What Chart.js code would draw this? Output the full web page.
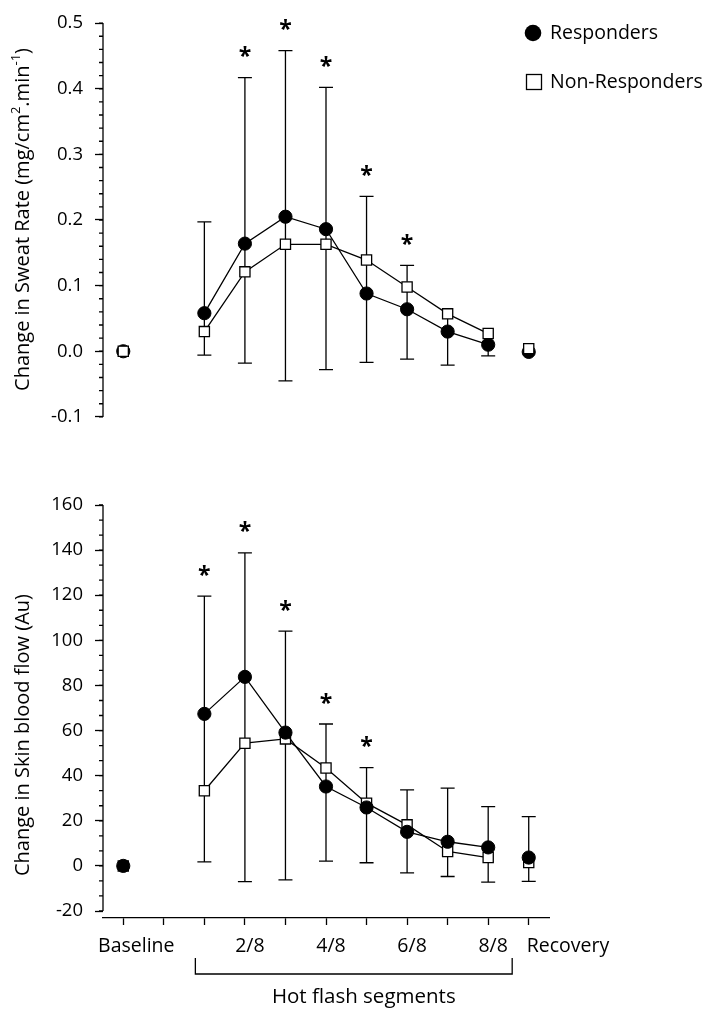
<!DOCTYPE html>
<html>
<head>
<meta charset="utf-8">
<script src="https://cdn.jsdelivr.net/npm/chart.js@4.4.1/dist/chart.umd.min.js"></script>
<style>
  html, body { margin: 0; padding: 0; background: #fff; }
  #wrap { position: relative; width: 713px; height: 1019px; }
  canvas { position: absolute; left: 0; }
  #sweatChart { top: 0; }
  #flowChart { top: 440px; }
</style>
</head>
<body>
<div id="wrap">
  <canvas id="sweatChart" width="713" height="440"></canvas>
  <canvas id="flowChart" width="713" height="579"></canvas>
</div>
<script>
// categories along x (index 1 is an empty slot between Baseline and the segments)
const segments = ['Baseline', '', '1/8', '2/8', '3/8', '4/8', '5/8', '6/8', '7/8', '8/8', 'Recovery'];
const tickLabels = ['Baseline', '', '', '2/8', '', '4/8', '', '6/8', '', '8/8', 'Recovery'];

// top panel: change in sweat rate
const sweatResponders = [0, null, 0.058, 0.164, 0.205, 0.186, 0.088, 0.064, 0.030, 0.010, -0.001];
const sweatNonResponders = [0, null, 0.030, 0.121, 0.163, 0.163, 0.139, 0.098, 0.057, 0.027, 0.004];
const sweatErrHigh = [null, null, 0.197, 0.417, 0.458, 0.402, 0.236, 0.131, null, null, null];
const sweatErrLow = [null, null, -0.006, -0.018, -0.045, -0.028, -0.017, -0.012, -0.021, -0.007, null];
const sweatStars = [false, false, false, true, true, true, true, true, false, false, false];
const sweatTicks = [-0.1, 0, 0.1, 0.2, 0.3, 0.4, 0.5];

// bottom panel: change in skin blood flow
const flowResponders = [0, null, 67.4, 83.8, 59.1, 35.2, 25.9, 15.1, 10.7, 8.2, 3.7];
const flowNonResponders = [0, null, 33.3, 54.4, 56.3, 43.4, 27.8, 18.2, 6.4, 3.7, 1.5];
const flowErrHigh = [null, null, 119.6, 138.8, 104.1, 62.9, 43.6, 33.7, 34.5, 26.3, 21.8];
const flowErrLow = [null, null, 1.8, -7.0, -6.2, 2.1, 1.4, -3.1, -4.7, -7.2, -6.9];
const flowStars = [false, false, true, true, true, true, true, false, false, false, false];
const flowTicks = [-20, 0, 20, 40, 60, 80, 100, 120, 140, 160];

const FONT = '"Open Sans", "DejaVu Sans", sans-serif';
const INK = '#000';

// only the hot flash segments are joined by lines
const inSegment = i => segments[i].includes('/');
const segColor = c => (inSegment(c.p0DataIndex) && inSegment(c.p1DataIndex)) ? INK : 'rgba(0,0,0,0)';

function respondersSet(data) {
    return {
        label: 'Responders', data: data,
        borderColor: INK, borderWidth: 1.3, tension: 0,
        segment: { borderColor: segColor },
        pointStyle: 'circle', pointRadius: 6.6, pointHoverRadius: 6.6,
        pointBackgroundColor: INK, pointBorderColor: INK, pointBorderWidth: 1
    };
}
function nonRespondersSet(data) {
    return {
        label: 'Non-Responders', data: data,
        borderColor: INK, borderWidth: 1.3, tension: 0,
        segment: { borderColor: segColor },
        pointStyle: 'rect', pointRadius: 7.2, pointHoverRadius: 7.2,
        pointBackgroundColor: '#fff', pointBorderColor: INK, pointBorderWidth: 1.3
    };
}

function rotatedTitle(ctx, x, y, parts, size) {
    ctx.save();
    ctx.translate(x, y);
    ctx.rotate(-Math.PI / 2);
    ctx.fillStyle = INK;
    ctx.textBaseline = 'middle';
    ctx.textAlign = 'left';
    const big = size + 'px ' + FONT, small = Math.round(size * 0.66) + 'px ' + FONT;
    let total = 0;
    parts.forEach(p => { ctx.font = p.sup ? small : big; total += ctx.measureText(p.t).width; });
    let cx = -total / 2;
    parts.forEach(p => {
        ctx.font = p.sup ? small : big;
        ctx.fillText(p.t, cx, p.sup ? -size * 0.36 : 0);
        cx += ctx.measureText(p.t).width;
    });
    ctx.restore();
}

function decor(cfg) {
    return {
        id: 'decor',
        beforeDatasetsDraw(chart) {
            const { ctx, scales: { x, y } } = chart;
            ctx.save();
            ctx.strokeStyle = INK;
            ctx.lineWidth = 1.3;
            segments.forEach((_, i) => {
                if (cfg.low[i] === null && cfg.high[i] === null) return;
                const vals = chart.data.datasets.map(d => d.data[i]).filter(v => v !== null);
                const px = x.getPixelForValue(i);
                const top = y.getPixelForValue(cfg.high[i] !== null ? cfg.high[i] : Math.max(...vals));
                const bot = y.getPixelForValue(cfg.low[i] !== null ? cfg.low[i] : Math.min(...vals));
                ctx.beginPath();
                ctx.moveTo(px, top); ctx.lineTo(px, bot);
                if (cfg.high[i] !== null) { ctx.moveTo(px - 7, top); ctx.lineTo(px + 7, top); }
                if (cfg.low[i] !== null) { ctx.moveTo(px - 7, bot); ctx.lineTo(px + 7, bot); }
                ctx.stroke();
            });
            ctx.restore();
        },
        afterDraw(chart) {
            const { ctx, scales: { x, y }, chartArea } = chart;
            ctx.save();
            ctx.strokeStyle = INK;
            ctx.fillStyle = INK;
            ctx.lineWidth = 1.3;

            // y axis line and minor ticks
            const lo = cfg.ticks[0], hi = cfg.ticks[cfg.ticks.length - 1];
            const ax = chartArea.left;
            ctx.beginPath();
            ctx.moveTo(ax, y.getPixelForValue(hi));
            ctx.lineTo(ax, y.getPixelForValue(lo));
            const n = Math.round((hi - lo) / cfg.minor);
            for (let k = 0; k <= n; k++) {
                const py = y.getPixelForValue(lo + k * cfg.minor);
                ctx.moveTo(ax - 4, py); ctx.lineTo(ax, py);
            }
            ctx.stroke();

            // significance asterisks
            ctx.font = 'bold 23px ' + FONT;
            ctx.textAlign = 'center';
            ctx.textBaseline = 'alphabetic';
            const m = ctx.measureText('*');
            const shift = (m.actualBoundingBoxAscent - m.actualBoundingBoxDescent) / 2;
            segments.forEach((_, i) => {
                if (!cfg.stars[i]) return;
                const py = y.getPixelForValue(cfg.high[i]) - 26;
                ctx.fillText('*', x.getPixelForValue(i), py + shift);
            });

            rotatedTitle(ctx, 23, cfg.titleY, cfg.title, 20);

            if (cfg.legend) {
                ctx.beginPath();
                ctx.arc(533, 33, 8.3, 0, Math.PI * 2);
                ctx.fill();
                ctx.fillStyle = '#fff';
                ctx.fillRect(526.5, 74.5, 15, 15);
                ctx.strokeRect(526.5, 74.5, 15, 15);
                ctx.fillStyle = INK;
                ctx.font = '19.5px ' + FONT;
                ctx.textAlign = 'left';
                ctx.textBaseline = 'middle';
                ctx.fillText('Responders', 550, 33);
                ctx.fillText('Non-Responders', 550, 82);
            }

            if (cfg.xLabels) {
                ctx.font = '19.5px ' + FONT;
                ctx.textBaseline = 'middle';
                const ly = chartArea.bottom + 28;
                tickLabels.forEach((t, i) => {
                    if (!t) return;
                    const px = x.getPixelForValue(i);
                    if (i === 0) { ctx.textAlign = 'center'; ctx.fillText(t, px + 13, ly); }
                    else if (i === tickLabels.length - 1) { ctx.textAlign = 'left'; ctx.fillText(t, px - 2, ly); }
                    else { ctx.textAlign = 'center'; ctx.fillText(t, px + 5, ly); }
                });
                // bracket under the hot flash segments
                const first = segments.findIndex(s => s.includes('/'));
                const last = segments.length - 2;
                const bl = x.getPixelForValue(first) - 9;
                const br = x.getPixelForValue(last) + 24;
                const bt = chartArea.bottom + 40, bb = chartArea.bottom + 56;
                ctx.beginPath();
                ctx.moveTo(bl, bt); ctx.lineTo(bl, bb); ctx.lineTo(br, bb); ctx.lineTo(br, bt);
                ctx.stroke();
                ctx.font = '20.5px ' + FONT;
                ctx.textAlign = 'center';
                ctx.fillText('Hot flash segments', (bl + br) / 2 + 10, chartArea.bottom + 79);
            }
            ctx.restore();
        }
    };
}

function yScale(min, max, ticks, fmt) {
    return {
        min: min, max: max,
        afterFit: s => { s.width = 103; },
        afterBuildTicks: s => { s.ticks = ticks.map(v => ({ value: v })); },
        border: { display: false },
        grid: { drawOnChartArea: false, tickLength: 8, tickColor: INK, tickWidth: 1.3 },
        ticks: { padding: 12, color: INK, font: { family: FONT, size: 18.5 }, callback: fmt }
    };
}

// Top panel
new Chart(document.getElementById('sweatChart'), {
    type: 'line',
    data: {
        labels: segments,
        datasets: [nonRespondersSet(sweatNonResponders), respondersSet(sweatResponders)]
    },
    options: {
        responsive: false, animation: false, events: [],
        layout: { padding: { left: 0, top: 15, right: 164, bottom: 17 } },
        plugins: { legend: { display: false }, tooltip: { enabled: false } },
        scales: {
            x: { type: 'category', display: false, offset: true },
            y: yScale(-0.1, 0.5, sweatTicks, v => v.toFixed(1))
        }
    },
    plugins: [decor({
        low: sweatErrLow, high: sweatErrHigh, stars: sweatStars, ticks: sweatTicks, minor: 0.02,
        titleY: 219.5, legend: true, xLabels: false,
        title: [{ t: 'Change in Sweat Rate (mg/cm' }, { t: '2', sup: true }, { t: '.min' }, { t: '-1', sup: true }, { t: ')' }]
    })]
});

// Bottom panel
new Chart(document.getElementById('flowChart'), {
    type: 'line',
    data: {
        labels: segments,
        datasets: [respondersSet(flowResponders), nonRespondersSet(flowNonResponders)]
    },
    options: {
        responsive: false, animation: false, events: [],
        layout: { padding: { left: 0, top: 65, right: 164, bottom: 0 } },
        plugins: { legend: { display: false }, tooltip: { enabled: false } },
        scales: {
            x: {
                type: 'category', offset: true,
                afterFit: s => { s.height = 101; },
                border: { display: true, color: INK, width: 1.3 },
                grid: { offset: false, drawOnChartArea: false, tickLength: 7, tickColor: INK, tickWidth: 1.3 },
                ticks: { display: false, autoSkip: false }
            },
            y: yScale(-23.1, 160, flowTicks, v => v)
        }
    },
    plugins: [decor({
        low: flowErrLow, high: flowErrHigh, stars: flowStars, ticks: flowTicks, minor: 20 / 3,
        titleY: 295, legend: false, xLabels: true,
        title: [{ t: 'Change in Skin blood flow (Au)' }]
    })]
});
</script>
</body>
</html>
